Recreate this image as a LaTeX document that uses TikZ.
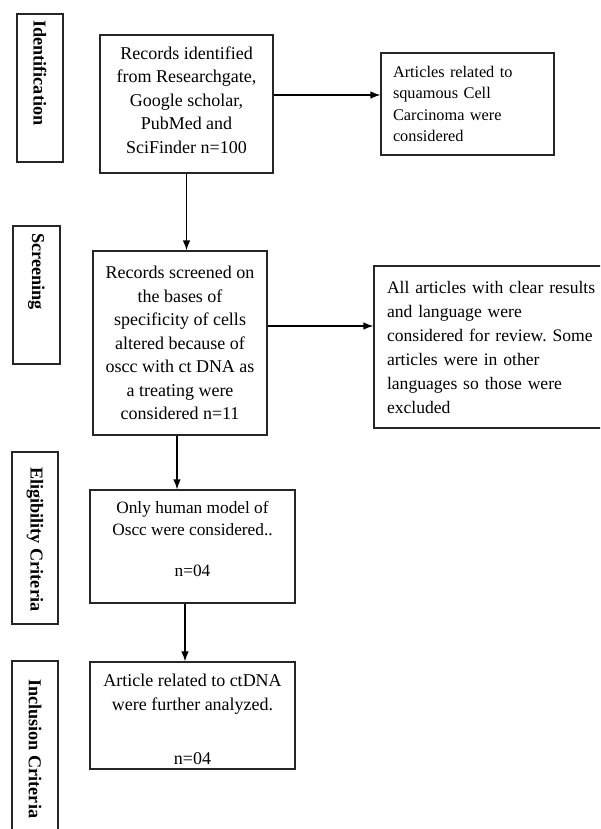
\documentclass[tikz,border=0pt]{standalone}
\usepackage{fontspec}
\setmainfont{Liberation Serif}
\usetikzlibrary{arrows.meta}
\frenchspacing
\begin{document}
\begin{tikzpicture}[x=1pt,y=-1pt,
  box/.style={draw=black!85, line width=1.2pt, inner sep=0pt, align=center,
    font=\fontsize{18}{23.5}\selectfont},
  sidebox/.style={draw=black!85, line width=1.2pt, inner sep=0pt, align=left,
    font=\fontsize{17.6}{24}\selectfont},
  lblbox/.style={draw=black!85, line width=1.2pt, inner sep=0pt},
  lbl/.style={rotate=-90, anchor=west, inner sep=0pt,
    font=\fontsize{18.2}{20}\selectfont\bfseries},
  arr/.style={line width=1.2pt, -{Latex[length=10pt,width=7.5pt]}}]
\useasboundingbox (0,0) rectangle (600,829);
\clip (0,0) rectangle (600,829);
\fill[white] (0,0) rectangle (600,829);

% stage label boxes
\node[lblbox, minimum width=46pt, minimum height=148pt] (L1) at (40,88) {};
\node[lblbox, minimum width=47pt, minimum height=138pt] (L2) at (36.5,295) {};
\node[lblbox, minimum width=46pt, minimum height=172pt] (L3) at (35,538) {};
\node[lblbox, minimum width=46pt, minimum height=190pt] (L4) at (35,756) {};
\node[lbl] (t1) at (40,20) {Identification};
\node[lbl] (t2) at (36.5,233) {Screening};
\node[lbl] (t3) at (35,467) {Eligibility Criteria};
\node[lbl] (t4) at (35,679) {Inclusion Criteria};

% main flow boxes
\node[box, minimum width=173pt, minimum height=138pt] (b1) at (186.5,104)
  {Records identified\\from Researchgate,\\Google scholar,\\PubMed and\\SciFinder n=100\rule[-8pt]{0pt}{8pt}};
\node[box, minimum width=174pt, minimum height=184pt] (b2) at (180,343)
  {Records screened on\\the bases of\\specificity of cells\\altered because of\\oscc with ct DNA as\\a treating were\\considered n=11};
\node[box, minimum width=205pt, minimum height=113pt,
  font=\fontsize{17.3}{21.5}\selectfont] (b3) at (192.5,546.5)
  {Only human model of\\Oscc were considered..\\[19.5pt]n=04\rule[-15pt]{0pt}{15pt}};
\node[box, minimum width=205pt, minimum height=107pt] (b4) at (192.5,715.5)
  {\rule{0pt}{21pt}Article related to ctDNA\\were further analyzed.\\[31pt]n=04};

% side boxes
\node[sidebox, minimum width=173pt, minimum height=102pt, text width=149pt,
  font=\fontsize{16.3}{21.3}\selectfont] (r1) at (467.5,104)
  {Articles related to\\squamous Cell\\Carcinoma were\\considered};
\node[sidebox, minimum width=250pt, minimum height=162pt, text width=224pt] (r2) at (499,347)
  {All articles with clear results\\and language were\\considered for review. Some\\articles were in other\\languages so those were\\excluded};

% connectors
\draw[arr] (b1.south) -- (b1.south |- b2.north);
\draw[arr] ([xshift=-3pt]b2.south) -- ([xshift=-3pt]b2.south |- b3.north);
\draw[arr] ([xshift=-7.5pt]b3.south) -- ([xshift=-7.5pt]b3.south |- b4.north);
\draw[arr] (b1.east |- 0,95) -- (r1.west |- 0,95);
\draw[arr] (b2.east |- 0,326) -- (r2.west |- 0,326);
\end{tikzpicture}
\end{document}
